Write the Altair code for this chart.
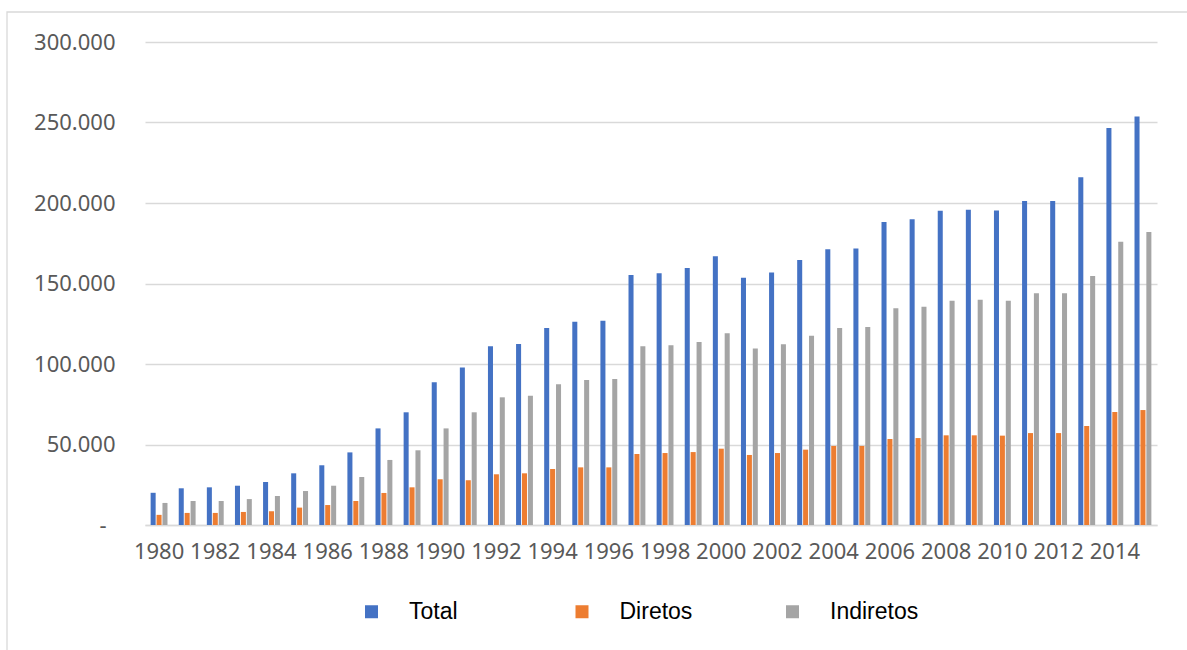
import altair as alt
import pandas as pd

# Annual counts, 1980-2015
years = list(range(1980, 2016))
total = [20000, 22800, 23400, 24400, 26700, 32100, 37100, 45100, 60000, 70000,
         88600, 97900, 111000, 112400, 122400, 126300, 126900, 155300, 156300, 159600,
         166900, 153600, 156900, 164600, 171200, 171800, 188200, 189900, 195200, 195800,
         195400, 201200, 201200, 216000, 246600, 253800]
diretos = [6300, 7500, 7500, 8100, 8500, 10800, 12400, 14900, 19900, 23400,
           28400, 27800, 31500, 32100, 34800, 35800, 35800, 44100, 44700, 45300,
           47400, 43500, 44700, 46800, 49100, 49100, 53400, 54000, 55700, 55700,
           55500, 57100, 57100, 61500, 70200, 71400]
indiretos = [13700, 14900, 14900, 16100, 18000, 21100, 24400, 29800, 40400, 46400,
             60000, 70000, 79300, 80300, 87400, 90100, 90700, 111000, 111600, 113700,
             119100, 109700, 112200, 117600, 122400, 123000, 134600, 135600, 139300, 139900,
             139300, 143900, 143900, 154700, 176000, 182000]

series = ["Total", "Diretos", "Indiretos"]
colors = ["#4472C4", "#ED7D31", "#A5A5A5"]

rows = []
for name, vals in zip(series, [total, diretos, indiretos]):
    for y, v in zip(years, vals):
        rows.append({"ano": y, "serie": name, "valor": v})
df = pd.DataFrame(rows)

W, H = 1012, 483
PAD_L, PAD_T = 145, 42

bars = alt.Chart(df).mark_bar().encode(
    x=alt.X(
        "ano:O",
        title=None,
        scale=alt.Scale(paddingInner=0.4, paddingOuter=0.2),
        axis=alt.Axis(
            labelAngle=0,
            labelExpr="datum.value % 2 == 0 ? datum.label : ''",
            labelOverlap=False,
            ticks=False,
            grid=False,
            domain=True,
            domainColor="#D9D9D9",
            domainWidth=1.3,
            labelPadding=16,
            labelFont="Noto Sans",
            labelFontSize=22,
            labelColor="#595959",
        ),
    ),
    xOffset=alt.XOffset(
        "serie:N",
        sort=series,
        scale=alt.Scale(paddingInner=0.15, paddingOuter=0),
    ),
    y=alt.Y(
        "valor:Q",
        title=None,
        scale=alt.Scale(domain=[0, 300000], nice=False),
        axis=alt.Axis(
            values=[0, 50000, 100000, 150000, 200000, 250000, 300000],
            labelExpr="datum.value == 0 ? '-' : replace(format(datum.value, ',.0f'), ',', '.')",
            ticks=False,
            domain=False,
            grid=True,
            gridColor="#D9D9D9",
            gridWidth=1.3,
            labelPadding={"condition": {"test": "datum.value == 0", "value": 39}, "value": 30},
            labelFont="Noto Sans",
            labelFontSize=22,
            labelColor="#595959",
        ),
    ),
    color=alt.Color(
        "serie:N",
        sort=series,
        scale=alt.Scale(domain=series, range=colors),
        legend=alt.Legend(
            title=None,
            orient="none",
            legendX=215,
            legendY=558,
            direction="horizontal",
            gridAlign="all",
            columnPadding=72.5,
            symbolType="square",
            symbolSize=169,
            symbolStrokeWidth=0,
            labelOffset=26,
            labelFont="Liberation Sans",
            labelFontSize=23,
            labelColor="#000000",
        ),
    ),
)

# Thin frame around the whole figure
frame = alt.Chart(pd.DataFrame({"k": [0]})).mark_rect(
    fill=None, stroke="#D9D9D9", strokeWidth=1.3
).encode(
    x=alt.value(7 - PAD_L),
    x2=alt.value(1187 - PAD_L + 20),
    y=alt.value(12 - PAD_T),
    y2=alt.value(650 - PAD_T + 20),
)

chart = alt.layer(frame, bars).properties(
    width=W,
    height=H,
    autosize=alt.AutoSizeParams(type="none"),
    padding={"left": PAD_L, "top": PAD_T, "right": 1187 - PAD_L - W, "bottom": 650 - PAD_T - H},
).configure(
    background="#FFFFFF",
    view=alt.ViewConfig(stroke=None),
)

chart.save("out.html", embed_options={"renderer": "svg", "actions": False})
